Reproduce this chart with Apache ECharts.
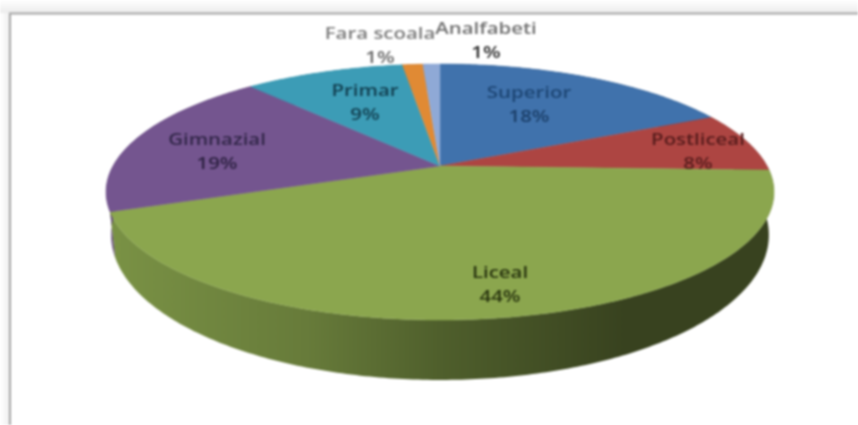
<!DOCTYPE html>
<html><head><meta charset="utf-8">
<style>html,body{margin:0;padding:0;background:#fff}#c{width:858px;height:425px;filter:blur(0.8px)}</style>
<script src="https://cdn.jsdelivr.net/npm/echarts@6/dist/echarts.min.js"></script>
</head><body><div id="c"></div>
<script>
const categories = ['Superior','Postliceal','Liceal','Gimnazial','Primar','Fara scoala','Analfabeti'];
const shares = [17.9, 7.6, 43.8, 19.0, 9.4, 1.2, 1.0];
const sliceColors = ['#4072ac','#ad4542','#8ba64e','#74558f','#3c9cb6','#e08a34','#8fa9d6'];
const nameColors = ['#1d4674','#571c1c','#28340f','#33274a','#123f50','#7d7d7d','#707070'];
const pctColors  = ['#1b3f69','#571c1c','#28340f','#2d2142','#123f50','#6b6b6b','#2c2c2c'];

const total = shares.reduce((a,b)=>a+b,0);
const FONT = '"Open Sans", sans-serif';
// perspective projection of the disc: rim angle -> pixel
const TOP = {cx:440, cy:166, a:327, b:122.7};
const LOW = {cx:440, cy:205.5, a:322, b:139};
const K = 0.2032;
function rim(p, th){
  const u=Math.sin(th), v=Math.cos(th), d=1+K*v;
  return [p.cx+p.a*u/d, p.cy-p.b*v/d];
}
function bounds(i){
  let s=0; for(let j=0;j<i;j++) s+=shares[j];
  return [s/total*2*Math.PI,(s+shares[i])/total*2*Math.PI];
}
function arc(p,a0,a1){
  const n=Math.max(2,Math.ceil((a1-a0)/0.012)), pts=[];
  for(let k=0;k<=n;k++) pts.push(rim(p,a0+(a1-a0)*k/n));
  return pts;
}
function shade(col,f){
  const c=echarts.color.parse(col);
  return 'rgb('+Math.round(c[0]*f)+','+Math.round(c[1]*f)+','+Math.round(c[2]*f)+')';
}
// label centres, as laid out in the reference
const labelAt = [[529,105],[698,152],[500,285],[217,152],[365,103],[380,46],[486,41]];

const c = echarts.init(document.getElementById('c'),null,{renderer:'canvas'});
const rows = categories.map((n,i)=>[n,shares[i]]);
c.setOption({
  backgroundColor:'#fff',
  animation:false,
  graphic:{elements:[
    {type:'rect',shape:{x:0,y:0,width:858,height:13},silent:true,
     style:{fill:new echarts.graphic.LinearGradient(0,0,0,1,[{offset:0,color:'#ffffff'},{offset:1,color:'#ececec'}])}},
    {type:'rect',shape:{x:0,y:13,width:9,height:412},silent:true,
     style:{fill:new echarts.graphic.LinearGradient(0,0,1,0,[{offset:0,color:'#ffffff'},{offset:1,color:'#efefef'}])}},
    {type:'line',shape:{x1:9,y1:13.5,x2:858,y2:13.5},silent:true,style:{stroke:'#a6a6a6',lineWidth:2}},
    {type:'line',shape:{x1:10,y1:13,x2:10,y2:425},silent:true,style:{stroke:'#a6a6a6',lineWidth:2}}
  ]},
  series:[
    {type:'custom',coordinateSystem:'none',z:2,data:rows,silent:true,
     renderItem(params){
       const i=params.dataIndex,[a0,a1]=bounds(i),col=sliceColors[i];
       const pts=arc(TOP,a0,a1).concat(arc(LOW,a0,a1).reverse());
       return {type:'polygon',shape:{points:pts},style:{
         fill:new echarts.graphic.LinearGradient(108,0,772,0,[
           {offset:0,color:shade(col,0.88)},
           {offset:0.3,color:shade(col,0.74)},
           {offset:0.5,color:shade(col,0.57)},
           {offset:0.78,color:shade(col,0.4)},
           {offset:1,color:shade(col,0.4)}],true)}};
     }},
    {type:'custom',coordinateSystem:'none',z:3,data:rows,silent:true,
     renderItem(params){
       const i=params.dataIndex,[a0,a1]=bounds(i);
       const pts=[[TOP.cx,TOP.cy]].concat(arc(TOP,a0,a1));
       return {type:'group',children:[
         {type:'polygon',z2:1,shape:{points:pts},style:{fill:sliceColors[i],stroke:sliceColors[i],lineWidth:0.5}},
         {type:'text',z2:50,x:labelAt[i][0],y:labelAt[i][1],scaleX:1.2,style:{
           text:'{n|'+categories[i]+'}\n{p|'+Math.round(shares[i]/total*100)+'%}',
           align:'center',verticalAlign:'middle',
           rich:{
             n:{font:'600 17px '+FONT,fill:nameColors[i],color:nameColors[i],lineHeight:24,align:'center'},
             p:{font:'600 17px '+FONT,fill:pctColors[i],color:pctColors[i],lineHeight:24,align:'center'}
           }}}
       ]};
     }}
  ]
});
</script></body></html>
